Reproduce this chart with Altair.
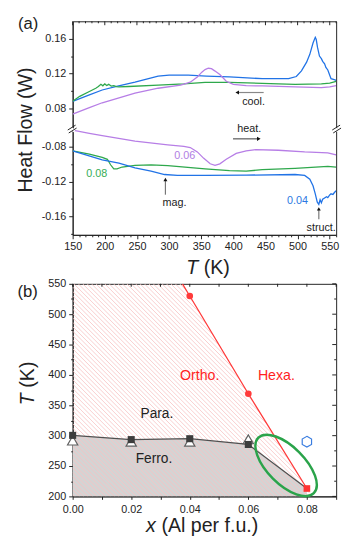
import altair as alt
import numpy as np
import pandas as pd

FONT = "Liberation Sans"
D = 0.1158  # shift of the upper (cooling) section for the broken y axis

# ---------------- panel (a): heat flow data ----------------
blue_cool_T = [150, 175, 196, 220, 247, 265, 283, 300, 330, 358, 394, 445, 486, 498, 506, 514, 519, 524,
               527.5, 529, 531, 534, 537, 539, 542, 544, 547, 549, 552, 557, 560]
blue_cool_hf = [0.088, 0.095, 0.101, 0.1055, 0.110, 0.1135, 0.117, 0.118, 0.118, 0.117, 0.116, 0.114, 0.114,
                0.1165, 0.123, 0.133, 0.142, 0.155, 0.1615, 0.159, 0.150, 0.140, 0.137, 0.134, 0.131, 0.127,
                0.124, 0.120, 0.114, 0.113, 0.112]

green_cool_T = [150, 161, 176, 186, 190, 194, 197, 200, 203, 206, 210, 214, 218, 222, 237, 283, 323, 356,
                394, 445, 496, 537, 550, 560]
green_cool_hf = [0.088, 0.0937, 0.0993, 0.103, 0.105, 0.1075, 0.1058, 0.108, 0.1062, 0.1075, 0.1055, 0.106,
                 0.1048, 0.1045, 0.105, 0.1067, 0.108, 0.1097, 0.1097, 0.1086, 0.1075, 0.108, 0.109, 0.111]

purple_cool_T = [150, 176, 196, 247, 283, 318, 333, 344, 351, 356, 361, 366, 371, 379, 389, 400, 420, 445,
                 496, 537, 550, 560]
purple_cool_hf = [0.0733, 0.0808, 0.0863, 0.0975, 0.103, 0.1067, 0.110, 0.116, 0.1215, 0.1245, 0.126, 0.1255,
                  0.123, 0.1187, 0.111, 0.1075, 0.106, 0.1056, 0.1045, 0.1037, 0.1045, 0.106]

purple_heat_T = [150, 176, 196, 247, 298, 323, 333, 344, 354, 364, 371.5, 379, 389, 404.5, 420, 435, 470,
                 511, 547, 560]
purple_heat_hf = [-0.061, -0.0647, -0.0674, -0.0737, -0.0778, -0.0797, -0.081, -0.086, -0.0934, -0.0997,
                  -0.1015, -0.0997, -0.0945, -0.0878, -0.0848, -0.0833, -0.0841, -0.086, -0.087, -0.0895]

green_heat_T = [150, 176, 196, 204, 209, 214, 219, 227, 247, 272, 298, 356, 394, 420, 445, 496, 547, 560]
green_heat_hf = [-0.0848, -0.0886, -0.0923, -0.0945, -0.1008, -0.1056, -0.1056, -0.1034, -0.1015, -0.1008,
                 -0.1019, -0.1056, -0.1075, -0.1082, -0.1064, -0.1049, -0.1026, -0.1034]

blue_heat_T = [150, 196, 222, 247, 272, 293, 313, 356, 420, 496, 511, 519, 524, 527.5, 530.5, 533, 535, 537,
               539, 542, 545, 547, 550, 552, 555, 557, 560]
blue_heat_hf = [-0.0848, -0.0953, -0.099, -0.1045, -0.1082, -0.112, -0.1131, -0.1131, -0.1127, -0.112,
                -0.1131, -0.1175, -0.125, -0.1342, -0.1435, -0.1465, -0.141, -0.1445, -0.1405, -0.139,
                -0.1375, -0.1385, -0.1355, -0.1342, -0.135, -0.133, -0.1305]

series_names = ["0.04", "0.06", "0.08"]
series_colors = ["#2173e6", "#b77ee6", "#2ea84c"]

T_ticks_a = list(range(150, 561, 10))
hf_ticks_lower = [-0.18, -0.16, -0.14, -0.12, -0.10, -0.08]
hf_ticks_upper = [0.08, 0.10, 0.12, 0.14, 0.16]

# ---------------- panel (b): phase diagram data ----------------
x_sq = [0.00, 0.02, 0.04, 0.06, 0.08]
T_sq = [300.5, 293.5, 295.0, 285.5, 213.0]
x_tri = [0.00, 0.02, 0.04, 0.06]
T_tri = [292.0, 290.0, 290.0, 294.0]
x_circ = [0.04, 0.06]
T_circ = [530.0, 369.0]
x_red_line = [0.0375, 0.04, 0.06, 0.08]
T_red_line = [550.0, 530.0, 369.0, 213.0]
x_hex = [0.08]
T_hex = [290.0]
x_ell = [0.0729]
T_ell = [251.0]
x_ticks_b = [round(v, 2) for v in np.arange(0, 0.0901, 0.01)]
T_ticks_b = list(range(200, 551, 25))

W, HA, HB = 269, 218, 217

rows = []
for name, branch, Ts, hs in [
    ("0.04", "cool", blue_cool_T, blue_cool_hf), ("0.08", "cool", green_cool_T, green_cool_hf),
    ("0.06", "cool", purple_cool_T, purple_cool_hf), ("0.06", "heat", purple_heat_T, purple_heat_hf),
    ("0.08", "heat", green_heat_T, green_heat_hf), ("0.04", "heat", blue_heat_T, blue_heat_hf)]:
    for t, h in zip(Ts, hs):
        rows.append({"T": t, "hf": h, "s": name, "branch": branch, "key": name + branch})
df_a = pd.DataFrame(rows)

one = alt.Data(values=[{"t": 0}])
DARK = "#222222"


def label(txt, x, y, color=DARK, size=11, align="center", baseline="middle", angle=0, style="normal"):
    return alt.Chart(alt.Data(values=[{"t": txt}])).mark_text(
        align=align, baseline=baseline, fontSize=size, font=FONT, color=color, angle=angle,
        fontStyle=style).encode(text="t:N", x=alt.value(x), y=alt.value(y))


def seg(x1, y1, x2, y2, color="#777777", w=1.0):
    return alt.Chart(one).mark_rule(color=color, strokeWidth=w).encode(
        x=alt.value(x1), y=alt.value(y1), x2=alt.value(x2), y2=alt.value(y2))


def head(x, y, shape, size=22):
    return alt.Chart(one).mark_point(shape=shape, filled=True, color="#111111", size=size, opacity=1).encode(
        x=alt.value(x), y=alt.value(y))


# ---- panel (a) encodings ----
xa_scale = alt.Scale(domain=[150, 560], nice=False, zero=False)
xa_axis = alt.Axis(values=T_ticks_a, labelExpr="datum.value % 50 === 0 ? datum.value : ''",
                   tickSize={"condition": {"test": "datum.value % 50 === 0", "value": 4}, "value": 2},
                   title=None, labelFlush=False, labelOverlap=False, labelFontSize=11, labelPadding=2)
xa = alt.X("T:Q", scale=xa_scale, axis=xa_axis)

orig = f"(datum.value > -0.05 ? datum.value + {D} : datum.value)"
major = f"(abs(round({orig} * 100)) % 4 === 0)"
ya_scale = alt.Scale(domain=[-0.1814, 0.0642], nice=False, zero=False)
ya_axis = alt.Axis(values=hf_ticks_lower + [round(v - D, 4) for v in hf_ticks_upper],
                   labelExpr=f"{major} ? (({orig}) < 0 ? '-' : '') + format(abs({orig}), '.2f') : ''",
                   tickSize={"condition": {"test": major, "value": 4}, "value": 2},
                   title=None, labelOverlap=False, labelFontSize=11, labelPadding=3)

curves = alt.Chart(df_a).transform_calculate(
    yp=f"datum.branch === 'cool' ? datum.hf - {D} : datum.hf"
).mark_line(strokeWidth=1.3, clip=True).encode(
    x=xa, y=alt.Y("yp:Q", scale=ya_scale, axis=ya_axis),
    color=alt.Color("s:N", scale=alt.Scale(domain=series_names, range=series_colors), legend=None),
    detail="key:N")

tick_df_a = pd.DataFrame({"T": T_ticks_a})
top_ticks_a_major = alt.Chart(tick_df_a).transform_filter("datum.T % 50 === 0").mark_rule(color=DARK).encode(
    x=xa, y=alt.value(0), y2=alt.value(4))
top_ticks_a_minor = alt.Chart(tick_df_a).transform_filter("datum.T % 50 !== 0").mark_rule(color=DARK).encode(
    x=xa, y=alt.value(0), y2=alt.value(2))

yb_ = 110
breaks = [
    seg(-2, yb_ - 1, 2, yb_ + 2, color="white", w=3),
    seg(-5, yb_ + 1, 3, yb_ - 4, color=DARK, w=1),
    seg(-4, yb_ + 4, 4, yb_ - 1, color=DARK, w=1),
    seg(W - 2, yb_ - 1, W + 2, yb_ + 2, color="white", w=3),
    seg(W - 4, yb_ + 1, W + 4, yb_ - 4, color=DARK, w=1),
    seg(W - 3, yb_ + 4, W + 5, yb_ - 1, color=DARK, w=1),
]

ann_a = [
    seg(195, 72.7, 169, 72.7, color="#888888", w=1.2), head(168, 72.7, "triangle-left", 18),
    label("cool.", 184.7, 82.5),
    label("heat.", 180.3, 110.5),
    seg(163.7, 120, 189, 120, color="#555555", w=1.2), head(190, 120, "triangle-right", 18),
    label("0.06", 114.5, 138, color="#b07ee3"),
    label("0.08", 24.5, 156, color="#35ad55"),
    label("mag.", 104, 186),
    seg(94.7, 177, 94.7, 162, color="#777777", w=1.2), head(94.7, 161.5, "triangle-up", 16),
    label("0.04", 229.5, 184, color="#2a78e2"),
    label("struct.", 253.7, 211),
    seg(251.3, 202, 251.3, 192, color="#777777", w=1.2), head(251.3, 191.5, "triangle-up", 16),
    label("(a)", -45.5, 2.5, size=17),
    label("Heat Flow (W)", -48, 111, size=20, angle=270),
    label("T", 116, 258, size=20, align="left", baseline="alphabetic", style="italic"),
    label("(K)", 133.8, 258, size=20, align="left", baseline="alphabetic"),
]

panel_a = alt.layer(curves, top_ticks_a_major, top_ticks_a_minor, *breaks, *ann_a).properties(width=W, height=HA)

# ---- panel (b) ----
xb_scale = alt.Scale(domain=[0, 0.09], nice=False, zero=False)
xb_axis = alt.Axis(values=x_ticks_b,
                   labelExpr="round(datum.value * 100) % 2 === 0 ? format(datum.value, '.2f') : ''",
                   tickSize=3, title=None, labelFlush=False, labelOverlap=False, labelFontSize=11,
                   labelPadding=4)
yb_scale = alt.Scale(domain=[200, 550], nice=False, zero=False)
yb_axis = alt.Axis(values=T_ticks_b, labelExpr="datum.value % 50 === 0 ? datum.value : ''",
                   tickSize={"condition": {"test": "datum.value % 50 === 0", "value": 4}, "value": 2},
                   title=None, labelOverlap=False, labelFontSize=11, labelPadding=3)
xb = alt.X("x:Q", scale=xb_scale, axis=xb_axis)
yb = alt.Y("T:Q", scale=yb_scale, axis=yb_axis)

sq_df = pd.DataFrame({"x": x_sq, "T": T_sq})
tri_df = pd.DataFrame({"x": x_tri, "T": T_tri})
circ_df = pd.DataFrame({"x": x_circ, "T": T_circ})
red_df = pd.DataFrame({"x": x_red_line, "T": T_red_line})
hex_df = pd.DataFrame({"x": x_hex, "T": T_hex})
ell_df = pd.DataFrame({"x": x_ell, "T": T_ell})

# hatch texture for the region left of the red line (derived from the red line)
k = (W / 0.09) / (HB / 350.0)   # 45 degree lines in pixel space
slope_end = (T_red_line[-1] - T_red_line[-2]) / (x_red_line[-1] - x_red_line[-2])
slope_start = (T_red_line[1] - T_red_line[0]) / (x_red_line[1] - x_red_line[0])


def t_red(x):
    if x < x_red_line[0]:
        return T_red_line[0] + slope_start * (x - x_red_line[0])
    if x > x_red_line[-1]:
        return T_red_line[-1] + slope_end * (x - x_red_line[-1])
    return float(np.interp(x, x_red_line, T_red_line))


xs = np.linspace(0, 0.09, 3000)
tr = np.array([t_red(v) for v in xs])
hatch = []
step = 4.5 / (HB / 350.0)
c = 200 + step * 0.5
while c < 550 + k * x_red_line[0]:
    x0 = max(0.0, (c - 550) / k)
    line = c - k * xs
    valid = (xs >= x0)
    cross = np.where(valid & (line >= tr))[0]
    xr = xs[cross[0]] if len(cross) else 0.09
    xbot = (c - 200) / k
    x1 = min(xr, xbot, 0.09)
    if x1 > x0:
        hatch.append({"x": x0, "T": c - k * x0, "x2": x1, "T2": c - k * x1})
    c += step
hatch_df = pd.DataFrame(hatch)

gray = alt.Chart(sq_df).mark_area(color="#d4d4d4", opacity=1, clip=True).encode(
    x=xb, y=yb, y2=alt.datum(200))
hatch_l = alt.Chart(hatch_df).mark_rule(color="#f7c2c2", strokeWidth=0.8, opacity=1, clip=True).encode(
    x=xb, y=yb, x2="x2:Q", y2="T2:Q")
black_line = alt.Chart(sq_df).mark_line(color="#505050", strokeWidth=1.3).encode(x=xb, y=yb)
red_line = alt.Chart(red_df).mark_line(color="#ff3b3b", strokeWidth=1.3, clip=True).encode(x=xb, y=yb)
ELL = ("M -1 0 C -1 -0.2623 -0.5523 -0.475 0 -0.475 C 0.5523 -0.475 1 -0.2623 1 0 "
       "C 1 0.2623 0.5523 0.475 0 0.475 C -0.5523 0.475 -1 0.2623 -1 0 Z")
ellipse = alt.Chart(ell_df).mark_point(shape=ELL, size=6400, angle=45, filled=False, color="#2aa34a",
                                       strokeWidth=2.5, opacity=1).encode(x=xb, y=yb)
tri = alt.Chart(tri_df).mark_point(shape="triangle-up", size=110, filled=True, fill="white",
                                   stroke="#606060", strokeWidth=1.2, opacity=1).encode(x=xb, y=yb)
sq = alt.Chart(sq_df.iloc[:4]).mark_point(shape="square", size=52, filled=True, color="#3d3d3d",
                                          opacity=1).encode(x=xb, y=yb)
red_sq = alt.Chart(sq_df.iloc[4:]).mark_point(shape="square", size=46, filled=True, color="#ff3333",
                                              opacity=1).encode(x=xb, y=yb)
circ = alt.Chart(circ_df).mark_point(shape="circle", size=46, filled=True, color="#ff3b3b",
                                     opacity=1).encode(x=xb, y=yb)
HEX = "M 0 -1 L 0.866 -0.5 L 0.866 0.5 L 0 1 L -0.866 0.5 L -0.866 -0.5 Z"
hexa = alt.Chart(hex_df).mark_point(shape=HEX, size=121, filled=False, color="#3a7de0", strokeWidth=1.2,
                                    opacity=1).encode(x=xb, y=yb)

top_ticks_b = alt.Chart(pd.DataFrame({"x": x_ticks_b})).mark_rule(color=DARK).encode(
    x=xb, y=alt.value(0), y2=alt.value(3))
tick_df_b = pd.DataFrame({"T": T_ticks_b})
right_ticks_b_major = alt.Chart(tick_df_b).transform_filter("datum.T % 50 === 0").mark_rule(color=DARK).encode(
    y=yb, x=alt.value(W), x2=alt.value(W - 4))
right_ticks_b_minor = alt.Chart(tick_df_b).transform_filter("datum.T % 50 !== 0").mark_rule(color=DARK).encode(
    y=yb, x=alt.value(W), x2=alt.value(W - 2))

ann_b = [
    label("(b)", -46, 8.5, size=17),
    label("Ortho.", 129.7, 94, color="#ff1f1f", size=14.5),
    label("Hexa.", 208, 94, color="#ff1f1f", size=14.5),
    label("Para.", 86, 133, size=14),
    label("Ferro.", 83, 179, size=14),
    label("T", -45.5, 124, size=20, align="left", angle=270, style="italic"),
    label("(K)", -45.5, 106, size=20, align="left", angle=270),
    label("x", 75, 253, size=20, align="left", baseline="alphabetic", style="italic"),
    label("(Al per f.u.)", 90.6, 253, size=20, align="left", baseline="alphabetic"),
]

panel_b = alt.layer(gray, hatch_l, black_line, red_line, ellipse, tri, sq, red_sq, circ, hexa,
                    top_ticks_b, right_ticks_b_major, right_ticks_b_minor, *ann_b).properties(width=W, height=HB)

chart = alt.vconcat(panel_a, panel_b, spacing=50, bounds="flush").properties(
    padding={"left": 7, "top": 1, "right": 2, "bottom": 1}
).configure_axis(
    labelFont=FONT, titleFont=FONT, grid=False, domainColor=DARK, tickColor=DARK, labelColor=DARK
).configure_view(stroke=DARK, strokeWidth=1)

chart.save("out.html", embed_options={"renderer": "svg", "actions": False})
